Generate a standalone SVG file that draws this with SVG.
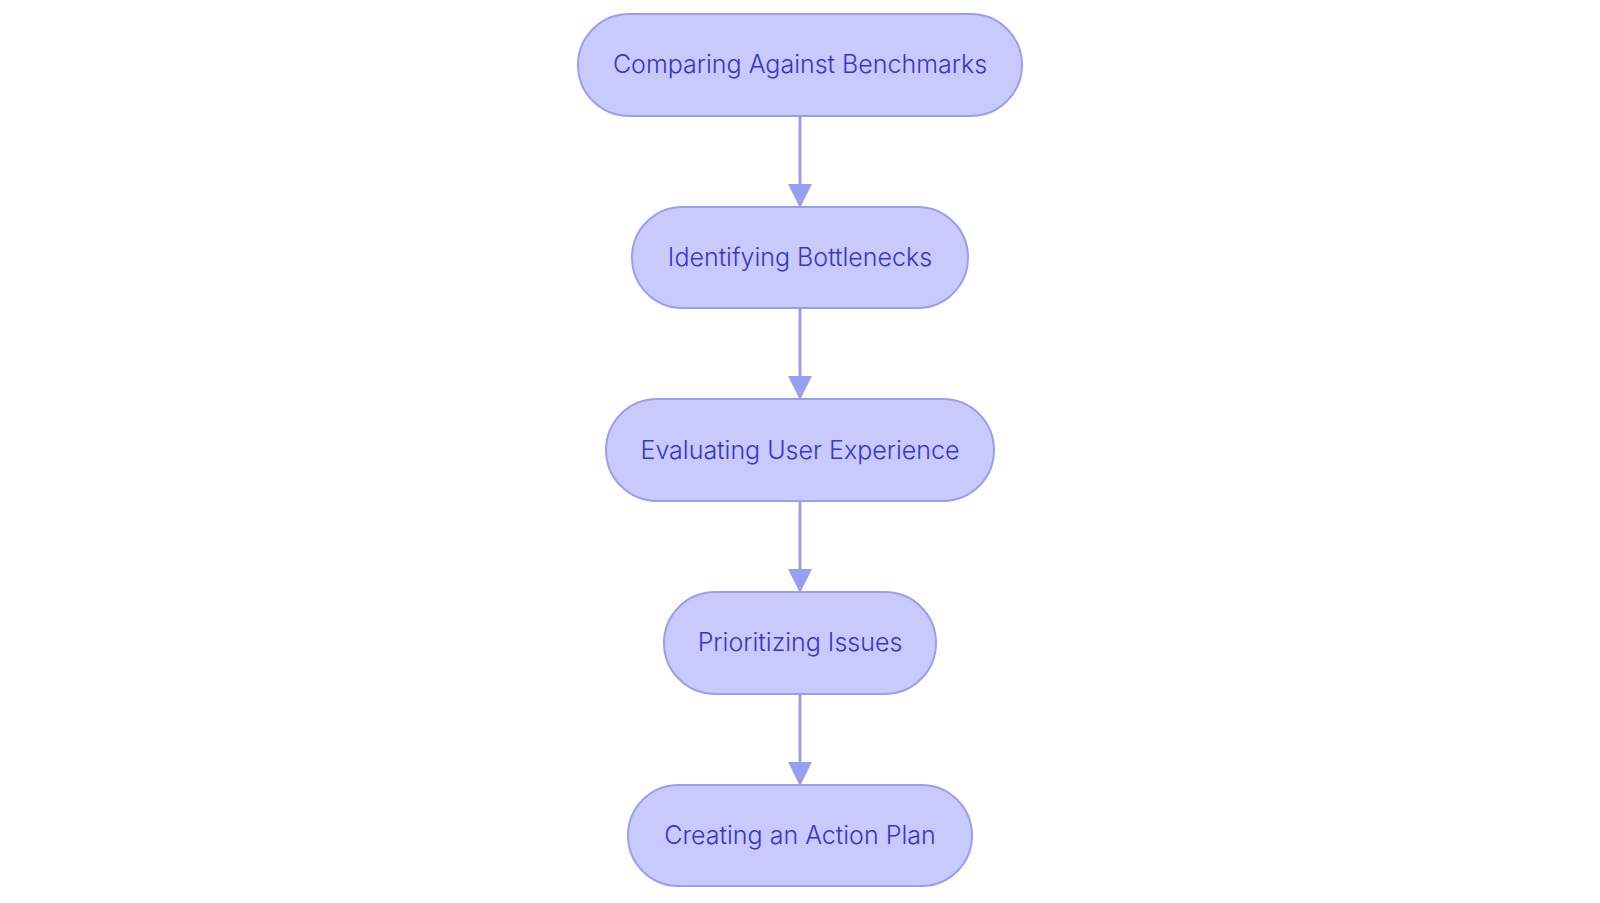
<svg xmlns="http://www.w3.org/2000/svg" width="1600" height="903" viewBox="0 0 1600 903">
<style>
.n rect{fill:#C8CAFB;stroke:#9A9EF0;stroke-width:2}
.n text{font-family:Inter,"Noto Sans",sans-serif;font-size:25px;font-weight:300;fill:#3535CF;text-anchor:middle;dominant-baseline:central}
.e{stroke:#9A9EF0;stroke-width:3;fill:none;marker-end:url(#a)}
</style>
<defs><marker id="a" markerWidth="8" markerHeight="8" refX="7" refY="4" orient="auto" markerUnits="strokeWidth"><path d="M0,0L8,4L0,8z" fill="#9A9EF0"/></marker></defs>
<rect width="1600" height="903" fill="#fff"/>
<g id="edges">
<line class="e" x1="800" y1="116" x2="800" y2="205"/>
<line class="e" x1="800" y1="308" x2="800" y2="397"/>
<line class="e" x1="800" y1="501" x2="800" y2="590"/>
<line class="e" x1="800" y1="694" x2="800" y2="783"/>
</g>
<g id="n1" class="n"><rect x="578" y="14" width="444" height="102" rx="51"/><text x="800" y="64">Comparing Against Benchmarks</text></g>
<g id="n2" class="n"><rect x="632" y="207" width="336" height="101" rx="50.5"/><text x="800" y="257">Identifying Bottlenecks</text></g>
<g id="n3" class="n"><rect x="606" y="399" width="388" height="102" rx="51"/><text x="800" y="450">Evaluating User Experience</text></g>
<g id="n4" class="n"><rect x="664" y="592" width="272" height="102" rx="51"/><text x="800" y="642">Prioritizing Issues</text></g>
<g id="n5" class="n"><rect x="628" y="785" width="344" height="101" rx="50.5"/><text x="800" y="835">Creating an Action Plan</text></g>
</svg>
